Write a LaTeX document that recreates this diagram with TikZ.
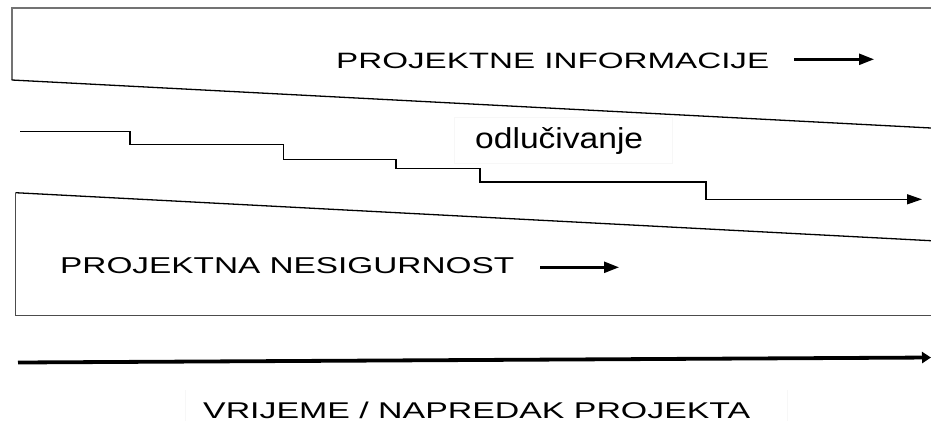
\documentclass[tikz,border=0pt]{standalone}
\usepackage{fontspec}
\setmainfont{Liberation Sans}
\usetikzlibrary{arrows.meta}
\begin{document}
\begin{tikzpicture}[x=1pt,y=-1pt,
  frameedge/.style={draw=black!55, line width=2.2pt},
  thinedge/.style={draw=black!70, line width=1.1pt},
  slope/.style={draw=black, line width=1.3pt},
  flow/.style={draw=black, line width=1.4pt, -{Triangle[length=15pt,width=10pt]}},
  txtarrow/.style={draw=black, line width=2.4pt, -{Triangle[length=15pt,width=11pt]}},
  timearrow/.style={draw=black, line width=3.8pt, -{Triangle[length=9pt,width=11pt]}},
  faint/.style={draw=black!3, line width=0.8pt},
  lbl/.style={inner sep=0pt, anchor=base west}]
\useasboundingbox (0,0) rectangle (931,421);
\fill[white] (0,0) rectangle (931,421);

% upper band: project information
\coordinate (ua) at (931,8.3);
\coordinate (ub) at (11.7,8.3);
\coordinate (uc) at (11.7,80);
\coordinate (ud) at (931,128);
\draw[frameedge] (ua) -- (ub) -- (uc);
\draw[slope] (uc) -- (ud);

% lower band: project uncertainty
\coordinate (la) at (931,240.7);
\coordinate (lb) at (15.5,192.7);
\coordinate (lc) at (15.5,315.7);
\coordinate (ld) at (931,315.7);
\draw[slope] (lb) -- (la);
\draw[thinedge] (lb) -- (lc) -- (ld);

% faint text frames
\draw[faint] (454,117) rectangle (672,163);
\draw[faint] (185,390) -- (185,421);
\draw[faint] (787,390) -- (787,421);

% texts
\node[lbl] (info) at (336,68.8) {\resizebox{433pt}{15.5pt}{PROJEKTNE INFORMACIJE}};
\node[lbl] (nes) at (60,273.8) {\resizebox{454pt}{16pt}{PROJEKTNA NESIGURNOST}};
\node[lbl] (odl) at (475,148.6) {\resizebox{168pt}{21pt}{odlučivanje}};
\node[lbl] (vri) at (203,418) {\resizebox{547pt}{16.5pt}{VRIJEME / NAPREDAK PROJEKTA}};

% text arrows
\coordinate (ia1) at (794,59.3);
\coordinate (ia2) at (874,59.3);
\draw[txtarrow] (ia1) -- (ia2);
\coordinate (na1) at (540,267.3);
\coordinate (na2) at (619,267.3);
\draw[txtarrow] (na1) -- (na2);

% decision staircase
\coordinate (st) at (20,131.7);
\coordinate (en) at (922,199.3);
\draw[flow] (st) -- (130,131.7) -- (130,144.3) -- (283.3,144.3) -- (283.3,159.3)
  -- (396,159.3) -- (396,168.3) -- (480,168.3) -- (480,182) -- (706,182)
  -- (706,199.3) -- (en);

% time axis
\coordinate (t1) at (18,362.5);
\coordinate (t2) at (931,357.5);
\draw[timearrow] (t1) -- (t2);
\end{tikzpicture}
\end{document}
